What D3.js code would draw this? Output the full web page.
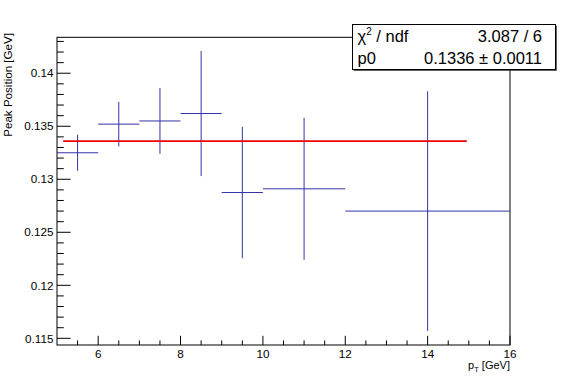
<!DOCTYPE html>
<html><head><meta charset="utf-8">
<script src="https://cdn.jsdelivr.net/npm/d3@7"></script>
<style>
html,body{margin:0;padding:0;background:#fff;}
svg{display:block;font-family:"Liberation Sans",Arial,Helvetica,sans-serif;}
</style></head>
<body>
<svg id="c" width="567" height="384"></svg>
<script>
// ---- data ----
const ptCenters = [5.5, 6.5, 7.5, 8.5, 9.5, 11, 14];
const ptHalfWidths = [0.5, 0.5, 0.5, 0.5, 0.5, 1, 2];
const peakValues = [0.1325, 0.1352, 0.1355, 0.1362, 0.12875, 0.1291, 0.1270];
const peakErrors = [0.0017, 0.0021, 0.0031, 0.0059, 0.0062, 0.0067, 0.0113];
const fitP0 = 0.1336;
const fitRange = [5.15, 14.95];
const xTickLabels = [6, 8, 10, 12, 14, 16];
const yTickLabels = [0.115, 0.12, 0.125, 0.13, 0.135, 0.14];
const statsRows = [["χ2 / ndf", "3.087 / 6"], ["p0", "0.1336 ± 0.0011"]];

// ---- layout ----
const L = 57, R = 510, T = 37.3, B = 345;
const svg = d3.select("#c");
const x = d3.scaleLinear().domain([5, 16]).range([L, R]);
const y = d3.scaleLinear().domain([0.11437, 0.14339]).range([B, T]);
const blue = "#3232a8";

// frame
svg.append("rect").attr("x", L).attr("y", T).attr("width", R - L).attr("height", B - T)
  .attr("fill", "none").attr("stroke", "#000").attr("stroke-width", 1);

// x axis ticks
const xMajorLen = 9.2, xMinorLen = 4.6;
const xMinor = d3.range(5.5, 16, 0.5).filter(v => !xTickLabels.includes(v));
const gx = svg.append("g");
xMinor.forEach(v => gx.append("line").attr("x1", x(v)).attr("x2", x(v)).attr("y1", B).attr("y2", B - xMinorLen).attr("stroke", "#000"));
xTickLabels.forEach(v => {
  gx.append("line").attr("x1", x(v)).attr("x2", x(v)).attr("y1", B).attr("y2", B - xMajorLen).attr("stroke", "#000");
  gx.append("text").attr("x", x(v)).attr("y", 358).attr("text-anchor", "middle")
    .attr("font-size", 11.7).text(d3.format("~g")(v));
});

// y axis ticks
const yMajorLen = 13.6, yMinorLen = 6.8;
const yMinor = d3.range(115, 144).map(v => v / 1000).filter(v => !yTickLabels.some(t => Math.abs(t - v) < 1e-9));
const gy = svg.append("g");
yMinor.forEach(v => gy.append("line").attr("x1", L).attr("x2", L + yMinorLen).attr("y1", y(v)).attr("y2", y(v)).attr("stroke", "#000"));
yTickLabels.forEach(v => {
  gy.append("line").attr("x1", L).attr("x2", L + yMajorLen).attr("y1", y(v)).attr("y2", y(v)).attr("stroke", "#000");
  gy.append("text").attr("x", 53.5).attr("y", y(v) + 4.2).attr("text-anchor", "end")
    .attr("font-size", 11.7).text(d3.format("~g")(v));
});

// axis titles
svg.append("text").attr("transform", "translate(12,33) rotate(-90)").attr("text-anchor", "end")
  .attr("font-size", 11.6).text("Peak Position [GeV]");
const xt = svg.append("text").attr("x", 510).attr("y", 368.5).attr("text-anchor", "end").attr("font-size", 11);
xt.append("tspan").text("p");
xt.append("tspan").attr("font-size", 7.5).attr("dy", 3).text("T");
xt.append("tspan").attr("dy", -3).text(" [GeV]");

// error bars
const gp = svg.append("g").attr("stroke", blue).attr("stroke-width", 1);
ptCenters.forEach((c, i) => {
  gp.append("line").attr("x1", x(c - ptHalfWidths[i])).attr("x2", x(c + ptHalfWidths[i]))
    .attr("y1", y(peakValues[i])).attr("y2", y(peakValues[i]));
  gp.append("line").attr("x1", x(c)).attr("x2", x(c))
    .attr("y1", y(peakValues[i] - peakErrors[i])).attr("y2", y(peakValues[i] + peakErrors[i]));
});

// fit line
svg.append("line").attr("x1", x(fitRange[0])).attr("x2", x(fitRange[1]))
  .attr("y1", y(fitP0)).attr("y2", y(fitP0)).attr("stroke", "#ee0000").attr("stroke-width", 1.8);

// stats box
const bx = 352.5, by = 24.5, bw = 203, bh = 45;
svg.append("rect").attr("x", bx + 1.2).attr("y", by + 1.2).attr("width", bw).attr("height", bh).attr("fill", "#222");
svg.append("rect").attr("x", bx).attr("y", by).attr("width", bw).attr("height", bh)
  .attr("fill", "#fff").attr("stroke", "#000").attr("stroke-width", 1);
const rowBase = [41.5, 63.5];
statsRows.forEach((r, i) => {
  const t = svg.append("text").attr("x", 357.5).attr("y", rowBase[i]).attr("font-size", 16.5);
  if (r[0].startsWith("χ2")) {
    t.append("tspan").text("χ");
    t.append("tspan").attr("font-size", 10).attr("dy", -7).text("2");
    t.append("tspan").attr("dy", 7).text(" / ndf");
  } else {
    t.text(r[0]);
  }
  svg.append("text").attr("x", 542).attr("y", rowBase[i]).attr("text-anchor", "end")
    .attr("font-size", 16.5).text(r[1]);
});
</script>
</body></html>
